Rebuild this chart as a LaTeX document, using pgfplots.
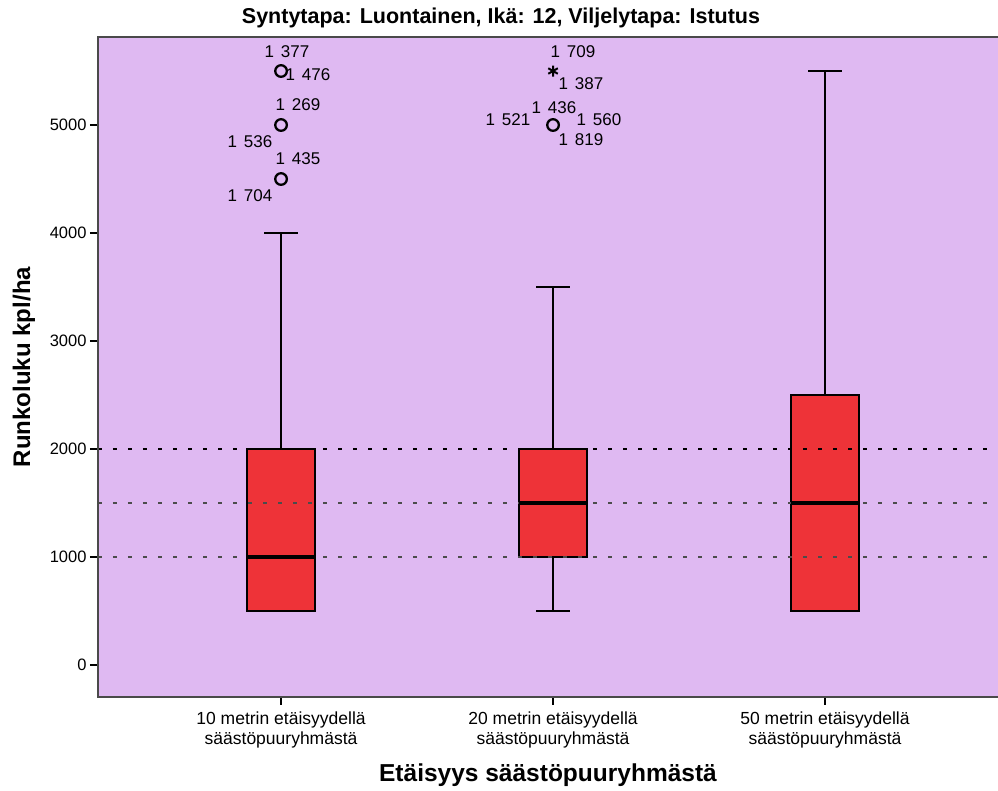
\documentclass[border=0pt]{standalone}
\usepackage{fontspec}
\setmainfont{Liberation Sans}
\usepackage{pgfplots}
\pgfplotsset{compat=1.18}

\definecolor{bgpurple}{HTML}{DFB9F2}
\definecolor{boxred}{HTML}{EE3338}
\definecolor{axisgray}{HTML}{4A4A4A}

\newcommand{\ticksize}{\fontsize{17.5}{20}\selectfont}
\newcommand{\olab}{\fontsize{17}{19}\selectfont}
\newcommand{\casegap}{\kern0.4em}

\pgfplotsset{
  boxbody/.style={draw=black, fill=boxred, line width=1.4pt},
  whisk/.style={black, line width=1.8pt},
  med/.style={black, line width=3.4pt},
}

\begin{document}
\begin{tikzpicture}
\begin{axis}[
  scale only axis, width=900pt, height=660pt,
  xmin=-0.673, xmax=2.636, ymin=-296, ymax=5815,
  axis background/.style={fill=bgpurple},
  axis line style={draw=none},
  clip=false,
  xtick={0,1,2},
  xticklabels={{10 metrin etäisyydellä\\säästöpuuryhmästä},
               {20 metrin etäisyydellä\\säästöpuuryhmästä},
               {50 metrin etäisyydellä\\säästöpuuryhmästä}},
  ytick={0,1000,2000,3000,4000,5000},
  tick align=outside, tick pos=left,
  major tick length=8pt,
  tick style={black, line width=1.4pt},
  xticklabel style={align=center, font=\ticksize, yshift=-3pt},
  yticklabel style={font=\fontsize{16.5}{20}\selectfont},
  /pgf/number format/assume math mode=true,
  /pgf/number format/1000 sep={},
  scaled y ticks=false,
]
  \coordinate (ll) at (rel axis cs:0,0);
  \coordinate (ur) at (rel axis cs:1,1);

  % group 1: min 500, Q1 500, median 1000, Q3 2000, max 4000
  \addplot[whisk] coordinates {(0,2000) (0,4000)};
  \addplot[whisk] coordinates {(-0.0625,4000) (0.0625,4000)};
  \addplot[boxbody] coordinates {(-0.125,500) (0.125,500) (0.125,2000) (-0.125,2000)} -- cycle;

  % group 2: min 500, Q1 1000, median 1500, Q3 2000, max 3500
  \addplot[whisk] coordinates {(1,2000) (1,3500)};
  \addplot[whisk] coordinates {(0.9375,3500) (1.0625,3500)};
  \addplot[whisk] coordinates {(1,500) (1,1000)};
  \addplot[whisk] coordinates {(0.9375,500) (1.0625,500)};
  \addplot[boxbody] coordinates {(0.875,1000) (1.125,1000) (1.125,2000) (0.875,2000)} -- cycle;

  % group 3: min 500, Q1 500, median 1500, Q3 2500, max 5500
  \addplot[whisk] coordinates {(2,2500) (2,5500)};
  \addplot[whisk] coordinates {(1.9375,5500) (2.0625,5500)};
  \addplot[boxbody] coordinates {(1.875,500) (2.125,500) (2.125,2500) (1.875,2500)} -- cycle;

  % reference lines (over the boxes)
  \addplot[black, line width=1.6pt, dash pattern=on 4pt off 11pt]
    coordinates {(-0.673,2000) (2.636,2000)};
  \addplot[black!70, line width=1.6pt, dash pattern=on 4pt off 11pt]
    coordinates {(-0.673,1500) (2.636,1500)};
  \addplot[black!70, line width=1.6pt, dash pattern=on 4pt off 11pt]
    coordinates {(-0.673,1000) (2.636,1000)};

  % medians on top
  \addplot[med] coordinates {(-0.125,1000) (0.125,1000)};
  \addplot[med] coordinates {(0.875,1500) (1.125,1500)};
  \addplot[med] coordinates {(1.875,1500) (2.125,1500)};

  % outliers and extreme value
  \addplot[only marks, mark=o, mark size=5.8pt,
    mark options={black, line width=2.3pt}]
    coordinates {(0,5500) (0,5000) (0,4500) (1,5000)};
  \addplot[only marks, mark=asterisk, mark size=5.5pt,
    mark options={black, line width=2pt}]
    coordinates {(1,5500)};

  % case numbers
  \node[font=\olab, xshift=6pt,  yshift=19pt]  at (axis cs:0,5500) {1\casegap377};
  \node[font=\olab, xshift=27pt, yshift=-4pt]  at (axis cs:0,5500) {1\casegap476};
  \node[font=\olab, xshift=17pt, yshift=20pt]  at (axis cs:0,5000) {1\casegap269};
  \node[font=\olab, xshift=-31pt, yshift=-17pt] at (axis cs:0,5000) {1\casegap536};
  \node[font=\olab, xshift=17pt, yshift=20pt]  at (axis cs:0,4500) {1\casegap435};
  \node[font=\olab, xshift=-31pt, yshift=-17pt] at (axis cs:0,4500) {1\casegap704};
  \node[font=\olab, xshift=20pt, yshift=19pt]  at (axis cs:1,5500) {1\casegap709};
  \node[font=\olab, xshift=28pt, yshift=-13pt] at (axis cs:1,5500) {1\casegap387};
  \node[font=\olab, xshift=1pt,  yshift=17pt]  at (axis cs:1,5000) {1\casegap436};
  \node[font=\olab, xshift=-45pt, yshift=5pt]  at (axis cs:1,5000) {1\casegap521};
  \node[font=\olab, xshift=46pt, yshift=5pt]   at (axis cs:1,5000) {1\casegap560};
  \node[font=\olab, xshift=28pt, yshift=-15pt] at (axis cs:1,5000) {1\casegap819};
\end{axis}

% frame: left, bottom and top edges
\draw[axisgray, line width=2.4pt] (ur) -- (ll |- ur) -- (ll) -- (ur |- ll);

% title and axis titles
\node[font=\bfseries\fontsize{21.5}{24}\selectfont] at (403pt,679pt)
  {Syntytapa: Luontainen, Ikä: 12, Viljelytapa: Istutus};
\node[font=\bfseries\fontsize{24.5}{28}\selectfont] at (450pt,-78pt)
  {Etäisyys säästöpuuryhmästä};
\node[font=\bfseries\fontsize{24}{28}\selectfont, rotate=90] at (-74pt,330pt)
  {Runkoluku kpl/ha};

\pgfresetboundingbox
\path[use as bounding box] ([shift={(-98pt,-94pt)}]ll) rectangle ([shift={(0pt,37pt)}]ur);
\end{tikzpicture}
\end{document}
